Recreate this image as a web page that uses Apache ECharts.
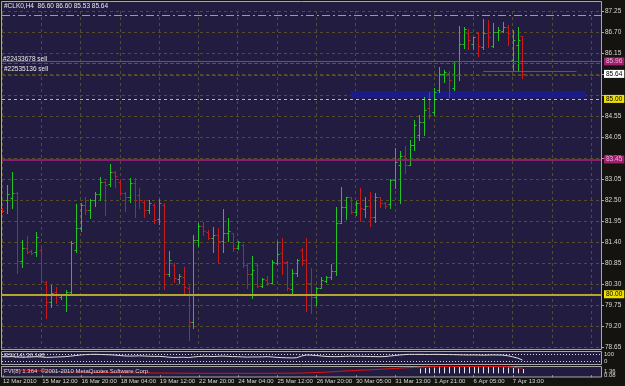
<!DOCTYPE html>
<html>
<head>
<meta charset="utf-8">
<title>#CLK0,H4</title>
<script src="https://cdn.jsdelivr.net/npm/echarts@6/dist/echarts.min.js"></script>
<style>
  html, body { margin: 0; padding: 0; background: #15130f; }
  #main { width: 625px; height: 386px; }
</style>
</head>
<body>
<div id="main"></div>
<script type="text/javascript">
// H4 bars, crude oil May 2010 contract
var opens  = [82.18,82.41,82.46,82.59,80.85,81.18,81.11,81.08,81.13,80.31,79.80,80.06,79.93,79.98,80.06,81.13,81.70,82.28,82.16,82.41,
              82.57,82.87,82.82,83.13,82.87,82.59,82.49,82.85,82.54,82.36,82.16,82.28,81.92,82.28,80.52,80.75,80.39,80.44,80.16,79.29,
              81.39,81.75,81.59,81.44,81.52,81.36,81.57,81.57,81.18,81.26,80.75,80.52,80.75,80.21,80.36,80.29,80.80,81.06,80.82,80.13,
              80.54,81.13,80.88,80.29,79.93,80.16,80.34,80.44,80.59,81.82,82.23,82.49,82.10,82.33,82.18,82.26,81.98,82.49,82.33,82.31,
              82.92,83.31,83.54,83.31,83.82,84.08,84.41,84.77,84.66,85.23,85.64,85.66,85.28,85.61,86.41,86.69,86.41,86.69,86.33,86.69,
              86.35,86.71,86.74,86.84,86.00,86.38,86.60];
var highs  = [82.21,82.80,83.13,82.62,81.39,81.49,81.13,81.59,81.26,80.34,80.24,80.18,80.00,80.11,81.36,82.31,82.33,82.49,82.44,82.62,
              83.00,82.90,83.33,83.15,82.92,82.62,82.97,82.97,82.72,82.41,82.41,82.33,82.44,82.33,81.11,80.80,80.52,80.70,80.21,81.52,
              81.82,81.85,81.64,81.72,81.70,82.18,81.95,81.57,81.36,81.28,80.80,80.98,80.80,80.42,80.47,80.88,81.36,81.44,80.85,80.64,
              80.90,81.18,81.44,80.67,80.18,80.44,80.47,80.77,82.23,82.74,82.49,82.49,82.39,82.72,82.49,82.62,82.59,82.49,82.36,82.95,
              83.74,83.67,83.79,83.95,84.46,84.59,85.05,85.18,85.28,85.82,85.74,85.71,85.94,86.87,86.84,86.79,86.58,86.71,87.05,87.02,
              86.94,86.84,86.97,86.89,86.76,86.84,86.60];
var lows   = [82.10,82.08,82.21,80.54,80.70,81.06,81.03,80.98,80.31,79.39,79.67,79.77,79.87,79.57,80.03,81.08,81.62,82.05,81.95,82.26,
              82.41,82.03,82.77,82.74,82.54,82.13,82.36,81.98,82.21,81.98,82.08,81.82,81.80,80.13,80.47,80.31,80.29,80.00,78.83,79.13,
              81.23,81.52,81.41,81.08,80.80,81.08,81.36,81.11,81.16,80.70,80.16,79.90,80.18,80.18,80.24,80.29,80.77,80.52,80.11,80.03,
              80.47,80.75,79.57,79.52,79.72,80.16,80.31,80.39,80.49,81.82,81.92,82.08,82.03,81.87,81.98,81.75,81.85,82.23,82.21,82.21,
              82.72,82.33,83.10,83.31,83.69,83.95,84.08,84.51,84.59,85.18,85.43,85.05,85.23,85.48,86.30,86.28,86.28,86.10,86.28,86.33,
              86.33,86.51,86.71,86.38,85.71,85.74,85.53];
var closes = [82.13,82.57,82.59,80.85,81.18,81.08,81.06,81.47,80.34,79.80,80.03,79.98,79.98,80.06,81.31,81.70,82.28,82.16,82.41,82.57,
              82.87,82.80,83.13,83.02,82.59,82.49,82.85,82.41,82.41,82.16,82.33,81.90,82.33,80.52,80.88,80.42,80.47,80.18,79.29,81.39,
              81.75,81.62,81.44,81.52,81.36,81.57,81.62,81.18,81.34,80.75,80.52,80.62,80.21,80.39,80.29,80.82,81.03,80.82,80.16,80.54,
              80.88,80.88,80.29,79.93,80.16,80.36,80.44,80.59,81.82,82.23,82.49,82.10,82.33,82.21,82.26,81.98,82.49,82.33,82.26,82.92,
              83.38,83.54,83.31,83.82,84.33,84.41,84.72,84.59,85.18,85.64,85.69,85.48,85.61,86.41,86.79,86.51,86.58,86.35,86.69,86.58,
              86.71,86.76,86.84,86.69,86.51,86.51,85.64];

// one label every 8 bars
var dateLabels = ['12 Mar 2010','15 Mar 12:00','16 Mar 20:00','18 Mar 04:00','19 Mar 12:00','22 Mar 20:00','24 Mar 04:00',
                  '25 Mar 12:00','26 Mar 20:00','30 Mar 05:00','31 Mar 13:00','1 Apr 21:00','6 Apr 05:00','7 Apr 13:00'];
var priceTicks = ['78.65','79.20','79.75','80.30','80.85','81.40','81.95','82.50','83.05','83.55','84.05','84.55','','','86.15','86.70','87.25'];

// upper sub window (oscillator, 0..100)
var oscValues = [68,66,69,64,61,62,65,68,64,59,61,64,66,69,76,84,91,96,99,100,98,96,94,90,
                 84,78,76,77,80,77,74,72,73,68,61,58,59,61,57,64,70,74,73,70,74,76,73,69,68,65,62,65,64,66,69,65,59,55,53,51,54,
                 77,91,89,84,77,72,69,68,70,73,76,74,73,72,70,69,68,70,77,84,91,
                 96,100,99,100,99,98,100,99,98,97,96,94,93,91,92,91,89,91,92,91,89,
                 81,66,50,23];
var oscLevels = [100, 0];

// lower sub window
var flowValues = [2.30,2.26,2.20,2.10,2.00,1.92,1.84,1.75,1.66,1.58,1.50,
                  1.44,1.38,1.32,1.28,1.24,1.20,1.16,1.12,1.10,1.06,1.04,1.02,1.00,0.98,0.96,0.94,0.92,0.92,0.90,0.88,0.86,0.86,
                  0.84,0.82,0.80,0.80,0.78,0.78,0.76,0.76,0.76,0.74,0.74,0.74,0.74,0.74,0.74,0.74,0.72,0.72,0.72,0.74,0.74,0.74,0.76,0.76,0.78,0.78,0.80,0.82,0.84,
                  0.90,0.98,1.05,1.12,1.20,1.30,1.42,1.55,1.66,1.74,1.83,1.94,2.02,2.10,2.22,2.33,2.41,2.50,2.62,2.74,2.86,2.95,3.04,3.12,3.20,3.27,3.32,
                  3.36,3.38,3.38,3.38,3.40,3.40,3.40,3.38,3.38,3.38,3.36,3.36,3.36,3.34,3.30,
                  3.10,2.90,2.70];
var histStart = 85;
var histBase = 0.74;
var histValues = [2.60,2.80,2.90,3.00,3.10,3.10,3.20,3.20,3.20,3.20,3.20,3.20,3.10,3.20,3.20,3.20,3.10,3.10,3.00,2.80,2.60,2.40];
var flowMarks = [1.364, 0.0835];

// horizontal objects on the price window
var dashDotLevel = 87.15;
var hLineLevel = 85.96;
var order1Level = 85.91;
var order2Level = 85.61;
var bidLevel = 85.64;
var yellowDashLevel = 85.00;
var magentaLevel = 83.45;
var roundLevel = 80.00;
var trendSeg = [[98, 85.71], [117, 85.71]];
var bandRange = [[71, 85.02], [119, 85.20]];

var slotCount = 123; // bars plus empty space on the right

var myChart = echarts.init(document.getElementById('main'));

var cats = [];
for (var s = 0; s < slotCount; s++) cats.push(String(s));

var bars = opens.map(function (o, i) { return [i, o, highs[i], lows[i], closes[i]]; });
var hist = histValues.map(function (v, k) { return [histStart + k, v]; });

var FONT = "'Liberation Sans', Arial, sans-serif";
var GRIDC = '#554c2a';
var UP = '#22c322', DOWN = '#c81a1a';
var NONE = 'rgba(0,0,0,0)';

function renderBar(params, api) {
    var i = api.value(0);
    var o = api.coord([i, api.value(1)]);
    var h = api.coord([i, api.value(2)]);
    var l = api.coord([i, api.value(3)]);
    var c = api.coord([i, api.value(4)]);
    var col = api.value(4) >= api.value(1) ? UP : DOWN;
    var x = Math.round(h[0]) + 0.5;
    var yo = Math.round(o[1]) + 0.5, yc = Math.round(c[1]) + 0.5;
    return {
        type: 'group',
        children: [
            { type: 'line', shape: { x1: x, y1: Math.round(h[1]), x2: x, y2: Math.round(l[1]) + 1 }, style: { stroke: col, lineWidth: 1 } },
            { type: 'line', shape: { x1: x - 2, y1: yo, x2: x, y2: yo }, style: { stroke: col, lineWidth: 1 } },
            { type: 'line', shape: { x1: x, y1: yc, x2: x + 2, y2: yc }, style: { stroke: col, lineWidth: 1 } }
        ]
    };
}

function renderHist(params, api) {
    var i = api.value(0);
    var a = api.coord([i, histBase]);
    var b = api.coord([i, api.value(1)]);
    var x = Math.round(a[0]) + 0.5;
    return { type: 'line', shape: { x1: x, y1: a[1], x2: x, y2: b[1] }, style: { stroke: '#e8e8e8', lineWidth: 1 } };
}

function boxLabel(bg, fg) {
    return {
        show: true, position: 'end', distance: 3, fontSize: 6.5, fontFamily: FONT,
        color: fg, backgroundColor: bg, padding: [1, 2, 0, 2],
        formatter: function (p) { return p.value.toFixed(2); }
    };
}

function catAxis(idx) {
    return {
        type: 'category', gridIndex: idx, data: cats, boundaryGap: false,
        axisLine: { show: false }, axisTick: { show: false }, axisLabel: { show: false },
        splitLine: { show: false }
    };
}

var xMain = catAxis(0);
xMain.splitLine = { show: true, interval: 7, lineStyle: { color: GRIDC, type: [3, 3], width: 1 } };
var xBottom = catAxis(2);
xBottom.axisTick = { show: true, interval: 7, length: 2, lineStyle: { color: '#a0a0a0' } };
xBottom.axisLabel = {
    show: true, interval: 7, align: 'left', margin: 1, fontSize: 6, fontFamily: FONT, color: '#d8d8d8',
    formatter: function (v, idx) { return dateLabels[idx / 8] || ''; }
};

myChart.setOption({
    backgroundColor: '#15130f',
    animation: false,
    textStyle: { fontFamily: FONT },
    title: [
        { text: '#CLK0,H4  86.60 86.60 85.53 85.64', left: 4, top: 3, padding: 0,
          textStyle: { fontSize: 6.5, fontWeight: 'normal', color: '#e8e8e8', fontFamily: FONT } },
        { text: 'RSI(14) 36.148', left: 4, top: 352, padding: 0,
          textStyle: { fontSize: 6, fontWeight: 'normal', color: '#d8d8d8', fontFamily: FONT } },
        { text: 'FVI(8) 1.364  \u00a92001-2010 MetaQuotes Software Corp.', left: 4, top: 368, padding: 0,
          textStyle: { fontSize: 6, fontWeight: 'normal', color: '#d8d8d8', fontFamily: FONT } }
    ],
    graphic: { elements: [
        { type: 'rect', z: -10, shape: { x: 1.5, y: 1.5, width: 600, height: 348 }, style: { fill: '#221c41', stroke: '#a8a8a8', lineWidth: 1 } },
        { type: 'rect', z: -10, shape: { x: 1.5, y: 351.5, width: 600, height: 13 }, style: { fill: '#221c41', stroke: '#a8a8a8', lineWidth: 1 } },
        { type: 'rect', z: -10, shape: { x: 1.5, y: 366.5, width: 600, height: 10.5 }, style: { fill: '#221c41', stroke: '#a8a8a8', lineWidth: 1 } }
    ] },
    grid: [
        { left: 2, right: 24, top: 11, height: 336 },
        { left: 2, right: 24, top: 351, height: 13 },
        { left: 2, right: 24, top: 366, height: 11 }
    ],
    xAxis: [xMain, catAxis(1), xBottom],
    yAxis: [
        {
            type: 'value', gridIndex: 0, position: 'right', min: 78.65, max: 87.25, interval: 0.5375,
            axisLine: { show: true, lineStyle: { color: '#a8a8a8' } },
            axisTick: { show: true, length: 3, lineStyle: { color: '#a8a8a8' } },
            axisLabel: {
                fontSize: 6.5, color: '#d8d8d8', margin: 4, fontFamily: FONT,
                formatter: function (v) { return priceTicks[Math.round((v - 78.65) / 0.5375)] || ''; }
            },
            splitLine: { show: true, lineStyle: { color: GRIDC, type: [3, 3] } }
        },
        { type: 'value', gridIndex: 1, min: -31, max: 145, show: false },
        { type: 'value', gridIndex: 2, min: -0.69, max: 3.575, show: false }
    ],
    series: [
        {
            type: 'custom', name: 'CLK0', xAxisIndex: 0, yAxisIndex: 0,
            renderItem: renderBar, data: bars, encode: { x: 0, y: [1, 2, 3, 4] },
            markArea: {
                silent: true,
                itemStyle: { color: '#1b1b88' },
                data: [[{ xAxis: bandRange[0][0], yAxis: bandRange[0][1] }, { xAxis: bandRange[1][0], yAxis: bandRange[1][1] }]]
            },
            markLine: {
                silent: true, symbol: ['none', 'none'], animation: false,
                label: { show: false },
                data: [
                    { yAxis: dashDotLevel, lineStyle: { color: '#c8a018', type: [8, 3, 2, 3], width: 1 }, label: { show: false } },
                    { yAxis: hLineLevel, lineStyle: { color: '#7a3cc8', type: 'solid', width: 1 }, label: boxLabel('#a0206e', '#e8b0d8') },
                    { yAxis: order1Level, lineStyle: { color: '#c02050', type: [4, 2], width: 1 },
                      label: { show: true, position: 'insideStartTop', distance: 1, fontSize: 6.5, color: '#e8e8e8', fontFamily: FONT, formatter: '#22433678 sell' } },
                    { yAxis: order2Level, lineStyle: { color: '#9a2c1c', type: [4, 2], width: 1 },
                      label: { show: true, position: 'insideStartTop', distance: 2, fontSize: 6.5, color: '#e8e8e8', fontFamily: FONT, formatter: '#22535136 sell' } },
                    { yAxis: bidLevel, lineStyle: { color: NONE, width: 1 }, label: boxLabel('#ffffff', '#000000') },
                    { yAxis: yellowDashLevel, lineStyle: { color: '#d8c800', type: [3, 3], width: 1 }, label: boxLabel('#f0e000', '#000000') },
                    { yAxis: magentaLevel, lineStyle: { color: '#a8207e', type: 'solid', width: 1.5 }, label: boxLabel('#a0206e', '#e8b0d8') },
                    { yAxis: roundLevel, lineStyle: { color: '#b4a62c', type: 'solid', width: 2 }, label: boxLabel('#f0e000', '#000000') },
                    [{ coord: trendSeg[0], lineStyle: { color: '#a82898', type: 'solid', width: 1 } }, { coord: trendSeg[1] }]
                ]
            }
        },
        {
            type: 'line', name: 'osc', xAxisIndex: 1, yAxisIndex: 1, data: oscValues,
            showSymbol: false, lineStyle: { color: '#e0e0e0', width: 1 },
            markLine: {
                silent: true, symbol: ['none', 'none'],
                lineStyle: { color: '#d8d8d8', type: [1, 2], width: 1 },
                label: { show: true, position: 'end', distance: 3, fontSize: 6, color: '#d8d8d8', fontFamily: FONT },
                data: oscLevels.map(function (v) { return { yAxis: v }; })
            }
        },
        {
            type: 'custom', name: 'hist', xAxisIndex: 2, yAxisIndex: 2,
            renderItem: renderHist, data: hist, encode: { x: 0, y: 1 }
        },
        {
            type: 'line', name: 'flow', xAxisIndex: 2, yAxisIndex: 2, data: flowValues,
            showSymbol: false, lineStyle: { color: '#e01414', width: 1 },
            markLine: {
                silent: true, symbol: ['none', 'none'],
                lineStyle: { color: NONE, width: 1 },
                label: { show: true, position: 'end', distance: 3, fontSize: 6, color: '#d8d8d8', fontFamily: FONT },
                data: flowMarks.map(function (v) { return { yAxis: v }; })
            }
        }
    ]
});
</script>
</body>
</html>
